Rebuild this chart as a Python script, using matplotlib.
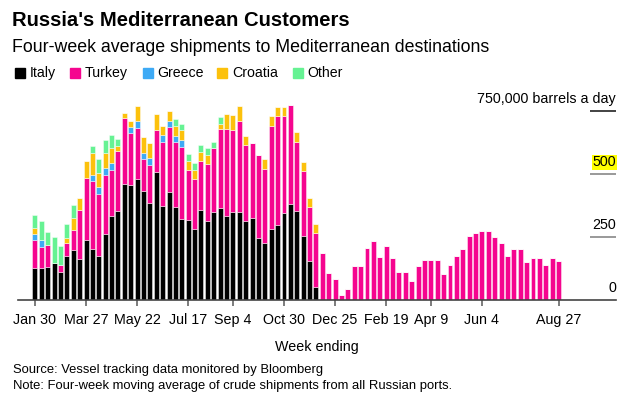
import matplotlib
matplotlib.use("Agg")
import matplotlib.pyplot as plt
from matplotlib.patches import Rectangle
import pandas as pd

plt.rcParams['font.family'] = ['Liberation Sans', 'DejaVu Sans']

# weekly buckets, week ending Jan 30 2022 .. Aug 27 2023
weeks = pd.date_range('2022-01-30', '2023-08-27', freq='7D')

# thousand barrels a day
italy = [128, 128, 132, 148, 112, 175, 200, 164, 237, 201, 176, 263, 335, 354,
         460, 458, 480, 433, 386, 509, 373, 430, 370, 323, 317, 282, 358, 315,
         351, 365, 335, 351, 351, 315, 325, 247, 228, 283, 299, 347, 382, 352,
         253, 155, 50] + [0] * 38
turkey = [110, 83, 85, 0, 26, 53, 79, 193, 246, 272, 245, 235, 183, 237,
          262, 205, 204, 127, 151, 167, 255, 257, 257, 286, 198, 198, 194, 225,
          251, 315, 345, 324, 361, 299, 299, 329, 294, 409, 430, 382, 393, 276,
          258, 213, 214, 186, 107, 82, 19, 45, 134, 134, 207, 234, 171, 213,
          166, 113, 113, 76, 134, 160, 160, 160, 102, 139, 176, 203, 254, 265,
          275, 275, 249, 228, 176, 202, 202, 149, 165, 165, 139, 165, 155]
greece = [25, 26, 0, 0, 0, 0, 0, 0, 0, 25, 26, 25, 26, 0, 0, 25, 26, 25, 26,
          0, 26, 25, 26, 26] + [0] * 59
croatia = [21, 0, 0, 0, 0, 20, 46, 48, 69, 86, 58, 61, 58, 21, 22, 22, 60, 61,
           60, 61, 38, 38, 36, 38, 37, 37, 36, 36, 0, 20, 58, 60, 60, 37, 0, 0,
           36, 38, 37, 37, 0, 37, 36, 36, 36] + [0] * 38
other = [53, 78, 53, 104, 78, 53, 54, 0, 0, 26, 53, 52, 53, 26, 0, 0, 0, 0, 0,
         0, 0, 0, 28, 25, 26, 26, 26, 26, 26, 28] + [0] * 53

series = [italy, turkey, greece, croatia, other]
names = ['Italy', 'Turkey', 'Greece', 'Croatia', 'Other']
colors = ['#000000', '#f5058f', '#3eaaf5', '#fcc10c', '#66f293']

tick_dates = ['2022-01-30', '2022-03-27', '2022-05-22', '2022-07-17', '2022-09-04',
              '2022-10-30', '2022-12-25', '2023-02-19', '2023-04-09', '2023-06-04',
              '2023-08-27']
tick_labels = ['Jan 30', 'Mar 27', 'May 22', 'Jul 17', 'Sep 4', 'Oct 30',
               'Dec 25', 'Feb 19', 'Apr 9', 'Jun 4', 'Aug 27']

y_ticks = [0, 250, 500, 750]
y_labels = ['0', '250', '500', '750,000 barrels a day']

W, H = 631, 411
fig = plt.figure(figsize=(W / 100, H / 100), dpi=100)
ax = fig.add_axes([18 / W, 111 / H, 598 / W, 199 / H])

x = list(range(len(weeks)))
bottom = [0] * len(weeks)
for vals, c in zip(series, colors):
    ax.bar(x, vals, bottom=bottom, width=0.78, color=c,
           edgecolor=(1, 1, 1, 0.45), linewidth=0.7)
    bottom = [b + v for b, v in zip(bottom, vals)]

ax.set_xlim(-2.66, 91.0)
ax.set_ylim(0, 790)

for s in ['top', 'right', 'left']:
    ax.spines[s].set_visible(False)
ax.spines['bottom'].set_color('#444444')
ax.spines['bottom'].set_linewidth(1.2)

pos = [list(weeks).index(pd.Timestamp(d)) for d in tick_dates]
ax.set_xticks(pos)
ax.set_xticklabels(tick_labels, fontsize=10.3)
ax.tick_params(axis='x', length=4, width=1.2, color='#666666', pad=5)
ax.set_yticks([])

# short right-hand gridlines with labels sitting on them
ax.hlines([v for v in y_ticks if v > 0], 86.96, 91.0,
          colors=['#888888', '#888888', '#222222'], linewidth=1.2)
for v, lab in zip(y_ticks, y_labels):
    kw = {}
    if lab == '500':
        kw['bbox'] = dict(facecolor='#ffff00', edgecolor='none', pad=0.6)
    ax.annotate(lab, (91.0, v), xytext=(0, 5.5), textcoords='offset points',
                ha='right', va='baseline', fontsize=10.3, **kw)

def px(xp, yp):
    return xp / W, 1 - yp / H

fig.text(*px(12, 21), "Russia's Mediterranean Customers", fontsize=14.6,
         fontweight='bold', va='center')
fig.text(*px(12, 47), 'Four-week average shipments to Mediterranean destinations',
         fontsize=12.8, va='center')

leg_sq = [15, 70, 142.5, 217.5, 292.5]
for sx, name, c in zip(leg_sq, names, colors):
    fig.patches.append(Rectangle(px(sx, 78), 10 / W, 10 / H, color=c,
                                 transform=fig.transFigure, figure=fig))
    fig.text(*px(sx + 15, 73), name, fontsize=10.2, va='center')

fig.text(*px(317, 347), 'Week ending', fontsize=10.3, ha='center', va='center')
fig.text(*px(13, 370), 'Source: Vessel tracking data monitored by Bloomberg',
         fontsize=9.4, va='center')
fig.text(*px(13, 386), 'Note: Four-week moving average of crude shipments from all Russian ports.',
         fontsize=9.4, va='center')

fig.savefig('out.png', dpi=100)
